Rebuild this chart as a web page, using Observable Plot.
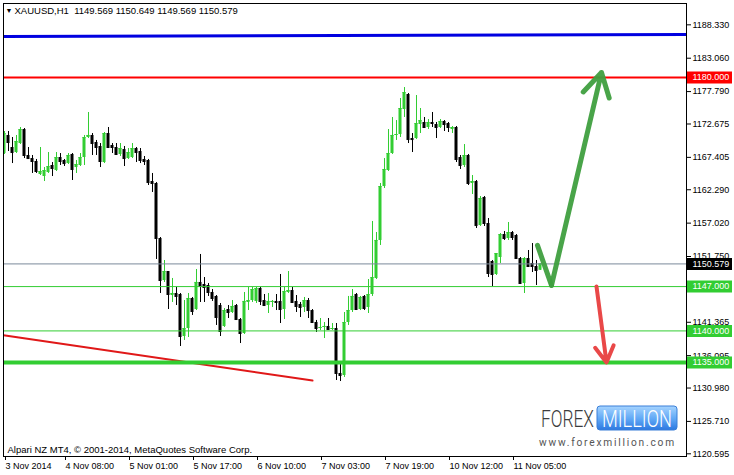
<!DOCTYPE html>
<html><head><meta charset="utf-8">
<script src="https://cdn.jsdelivr.net/npm/d3@7"></script>
<script src="https://cdn.jsdelivr.net/npm/@observablehq/plot@0.6"></script>
<style>html,body{margin:0;padding:0;background:#fff;}#chart{width:734px;height:475px;overflow:hidden}</style>
</head><body><div id="chart"></div>
<script>
// ---- data (XAUUSD H1) ----
const openP = [
1168.01,1170.86,1168.96,1168.17,1169.59,1171.80,1167.70,1167.22,1166.75,1164.70,
1164.38,1165.01,1166.12,1165.33,1167.38,1166.91,1166.43,1167.86,1165.80,1166.12,
1167.38,1170.54,1170.86,1169.75,1169.12,1166.59,1171.17,1169.28,1168.96,1167.86,
1168.64,1167.22,1167.38,1168.80,1168.33,1167.07,1166.91,1163.59,1163.28,1154.59,
1147.96,1149.38,1145.59,1145.91,1145.75,1139.12,1140.38,1145.12,1143.38,1147.65,
1147.33,1147.17,1146.07,1145.44,1144.01,1140.70,1143.38,1142.91,1144.01,1141.80,
1139.59,1144.49,1144.80,1144.65,1146.70,1144.80,1144.01,1144.49,1144.65,1144.65,
1143.38,1146.07,1146.38,1144.65,1144.17,1143.70,1144.80,1143.22,1141.33,1140.38,
1140.54,1140.70,1140.22,1140.38,1133.28,1132.96,1141.33,1143.22,1145.75,1143.38,
1145.44,1143.70,1145.75,1148.28,1154.28,1162.80,1165.33,1168.01,1170.86,1171.01,
1174.96,1177.33,1170.38,1170.38,1172.59,1172.91,1172.12,1172.91,1172.59,1172.12,
1173.07,1172.75,1171.80,1172.12,1167.38,1166.12,1167.70,1163.28,1163.59,1156.64,
1161.07,1156.96,1150.96,1148.91,1151.59,1155.22,1154.59,1155.54,1155.07,1151.43,
1147.49,1151.43,1150.65,1150.17,1149.569];
const highP = [
1171.49,1171.49,1170.54,1170.86,1172.12,1171.96,1168.96,1167.70,1167.07,1168.96,
1165.80,1168.17,1166.59,1168.17,1168.01,1167.07,1168.01,1168.01,1166.91,1168.01,
1170.86,1174.49,1171.17,1170.07,1169.59,1171.33,1172.12,1169.59,1169.59,1169.59,
1169.12,1168.80,1169.59,1168.96,1168.80,1167.54,1167.07,1164.86,1163.43,1154.75,
1151.12,1149.38,1148.28,1146.86,1145.91,1144.80,1145.91,1145.28,1149.70,1152.07,
1148.43,1147.49,1146.54,1145.59,1144.33,1143.54,1144.01,1144.80,1144.17,1141.96,
1146.07,1146.86,1146.86,1146.86,1146.86,1145.75,1145.91,1144.80,1145.75,1148.91,
1146.86,1149.38,1146.86,1145.59,1144.49,1145.28,1145.12,1143.38,1141.65,1141.96,
1141.33,1141.96,1141.17,1141.17,1135.01,1142.91,1145.44,1146.54,1145.91,1145.44,
1145.59,1148.12,1157.28,1155.54,1163.28,1167.22,1171.80,1173.70,1173.22,1176.70,
1178.43,1177.49,1171.17,1177.17,1175.12,1173.70,1173.38,1174.49,1172.91,1173.38,
1173.22,1172.91,1172.28,1172.28,1167.70,1169.43,1167.86,1164.54,1163.75,1161.22,
1161.22,1157.75,1151.12,1152.22,1155.38,1155.70,1157.12,1155.70,1155.22,1151.59,
1151.59,1152.70,1153.80,1151.12,1150.649];
const lowP = [
1167.86,1168.33,1166.43,1168.01,1169.43,1167.22,1167.07,1164.86,1164.86,1164.54,
1163.59,1164.86,1164.38,1165.17,1166.12,1165.96,1166.28,1163.75,1164.86,1165.96,
1166.12,1170.38,1167.70,1167.70,1165.80,1166.43,1168.80,1168.01,1167.70,1167.54,
1165.96,1167.07,1167.22,1166.59,1166.43,1166.12,1162.96,1161.86,1151.28,1145.91,
1147.65,1143.38,1144.49,1144.01,1137.54,1138.49,1138.96,1142.44,1143.22,1144.49,
1144.49,1145.44,1144.65,1140.86,1139.12,1140.54,1141.96,1142.75,1141.65,1138.01,
1139.44,1143.22,1144.49,1144.33,1144.01,1143.86,1142.75,1143.70,1143.22,1141.17,
1141.80,1145.91,1144.33,1142.91,1142.12,1142.91,1141.96,1141.17,1139.75,1140.07,
1138.80,1140.07,1140.07,1132.17,1132.01,1132.65,1140.86,1142.91,1143.22,1143.22,
1143.22,1142.75,1145.44,1148.12,1153.49,1162.49,1165.17,1167.86,1170.07,1170.54,
1173.70,1169.59,1168.17,1170.22,1171.17,1171.96,1171.80,1172.12,1170.38,1171.96,
1171.49,1171.33,1171.17,1166.59,1165.49,1165.80,1162.96,1161.54,1156.17,1156.49,
1156.49,1148.43,1147.01,1148.75,1150.65,1154.28,1154.28,1154.28,1151.28,1147.33,
1145.91,1150.01,1149.22,1147.17,1149.569];
const closeP = [
1171.17,1169.75,1168.17,1169.91,1171.80,1167.70,1167.22,1166.75,1165.17,1165.17,
1165.33,1165.96,1165.64,1167.38,1166.75,1166.43,1167.70,1165.49,1166.28,1167.38,
1170.54,1170.86,1169.59,1168.96,1166.75,1171.17,1168.96,1168.96,1167.86,1168.80,
1167.22,1168.17,1168.80,1168.17,1166.91,1166.75,1163.43,1163.28,1154.59,1147.96,
1149.38,1145.75,1145.91,1145.44,1139.12,1140.38,1145.12,1143.07,1147.65,1147.01,
1146.86,1146.07,1145.12,1142.12,1139.91,1143.22,1142.91,1143.86,1141.80,1139.59,
1144.65,1144.80,1146.54,1146.70,1144.65,1144.01,1144.65,1144.65,1144.49,1143.38,
1146.22,1146.38,1144.49,1143.86,1143.70,1144.80,1143.22,1141.33,1140.38,1140.54,
1140.70,1140.22,1140.38,1133.28,1132.96,1141.33,1143.22,1145.44,1143.38,1145.28,
1143.54,1145.75,1148.43,1154.28,1162.80,1165.49,1168.01,1170.86,1171.01,1175.12,
1177.64,1170.22,1170.22,1172.75,1173.22,1172.12,1172.91,1172.75,1172.12,1173.07,
1172.59,1172.12,1172.12,1167.07,1166.12,1167.70,1163.28,1163.59,1156.64,1160.91,
1156.96,1149.07,1148.91,1152.22,1155.22,1154.59,1155.54,1154.75,1151.43,1147.49,
1151.43,1150.17,1150.17,1149.54,1150.579];

const xTickBars = [1, 16, 32, 48, 64, 80, 96, 112, 128];
const xTickLabels = ["3 Nov 2014","4 Nov 08:00","5 Nov 01:00","5 Nov 17:00","6 Nov 10:00","7 Nov 03:00","7 Nov 19:00","10 Nov 12:00","11 Nov 05:00"];
const yTicks = [1188.330,1183.060,1177.790,1172.675,1167.405,1162.290,1157.020,1151.750,1146.635,1141.365,1136.095,1130.980,1125.710,1120.595];
const levelPrices = [1180.000, 1147.000, 1140.000, 1135.000];
const blueLineBars = [0.75, 171.5], blueLinePrices = [1186.49, 1186.80];
const redTrendBars = [0.75, 78], redTrendPrices = [1139.30, 1132.17];
const greenCheckBars = [134.25, 137.75, 150.25], greenCheckPrices = [1153.5, 1147.2, 1180.8];
const redArrowBars = [149, 151.5], redArrowPrices = [1147.0, 1135.0];
const symbol = "XAUUSD,H1";
const copyright = "Alpari NZ MT4, \u00A9 2001-2014, MetaQuotes Software Corp.";

// ---- build ----
const GREEN = "#32cd32";
const candles = openP.map((o, k) => ({i: k + 1, o, h: highP[k], l: lowP[k], c: closeP[k]}));
const up = candles.filter(d => d.c >= d.o), dn = candles.filter(d => d.c < d.o);
const last = candles[candles.length - 1];
const f3 = d => d.toFixed(3);
const header = `${symbol}  ${f3(last.o)} ${f3(last.h)} ${f3(last.l)} ${f3(last.c)}`;
const levelColors = ["#ff0000", GREEN, GREEN, GREEN];
const levelWidths = [2, 1, 1, 4];
const levels = levelPrices.map((p, k) => ({p, color: levelColors[k], w: levelWidths[k]}));
const boxes = [...levels, {p: last.c, color: "#000"}];
const pts = (xs, ys) => xs.map((x, k) => ({x, y: ys[k]}));
const blueLine = pts(blueLineBars, blueLinePrices);
const redTrend = pts(redTrendBars, redTrendPrices);
const check = pts(greenCheckBars, greenCheckPrices);
const greenArrow = [{x1: check[1].x, y1: check[1].y, x2: check[2].x, y2: check[2].y}];
const redArrow = [{x1: redArrowBars[0], y1: redArrowPrices[0], x2: redArrowBars[1], y2: redArrowPrices[1]}];

function logoMark(index, scales, values, dims) {
  const R = dims.width - dims.marginRight, B = dims.height - dims.marginBottom;
  const g = d3.create("svg:g").attr("font-family", "Roboto, 'Liberation Sans', sans-serif")
    .attr("text-anchor", "start");
  const grad = g.append("defs").append("linearGradient").attr("id", "fmGrad")
    .attr("x1", 0).attr("y1", 0).attr("x2", 0).attr("y2", 1);
  grad.append("stop").attr("offset", "0%").attr("stop-color", "#a6d4ff");
  grad.append("stop").attr("offset", "55%").attr("stop-color", "#5ea6f5");
  grad.append("stop").attr("offset", "100%").attr("stop-color", "#2c78e0");
  g.append("rect").attr("x", R - 89).attr("y", B - 50).attr("width", 80).attr("height", 24)
    .attr("rx", 3).attr("fill", "url(#fmGrad)").attr("stroke", "#3b7fd8");
  g.append("text").attr("class", "fit").attr("data-x", R - 145).attr("data-w", 53)
    .attr("y", B - 29).attr("font-size", 24).attr("font-weight", 300)
    .attr("fill", "#3c3c3c").text("FOREX");
  g.append("text").attr("class", "fit").attr("data-x", R - 84).attr("data-w", 70)
    .attr("y", B - 29).attr("font-size", 24).attr("font-weight", 300)
    .attr("fill", "#fff").text("MILLION");
  g.append("text").attr("class", "fit").attr("data-x", R - 147).attr("data-w", 137)
    .attr("y", B - 10).attr("font-size", 11.5).attr("letter-spacing", 2)
    .attr("fill", "#555").text("www.forexmillion.com");
  return g.node();
}

const chart = Plot.plot({
  width: 734, height: 475,
  marginTop: 3, marginLeft: 3, marginRight: 48, marginBottom: 19,
  x: {domain: [0.75, 171.5], axis: null},
  y: {domain: [1120.17, 1191.70], axis: null},
  style: {fontFamily: "'Liberation Sans', Arial, sans-serif", fontSize: "9px", background: "#fff", color: "#000", overflow: "visible"},
  marks: [
    Plot.ruleX(up, {x: "i", y1: "l", y2: "h", stroke: GREEN, clip: true}),
    Plot.ruleX(dn, {x: "i", y1: "l", y2: "h", stroke: "#000", clip: true}),
    Plot.rect(up, {x1: d => d.i - 0.375, x2: d => d.i + 0.375, y1: "o", y2: "c", fill: GREEN, clip: true}),
    Plot.rect(dn, {x1: d => d.i - 0.375, x2: d => d.i + 0.375, y1: "o", y2: "c", fill: "#000", clip: true}),
    Plot.ruleY(up, {x1: d => d.i - 0.375, x2: d => d.i + 0.375, y: "c", stroke: GREEN, clip: true}),
    Plot.ruleY(dn, {x1: d => d.i - 0.375, x2: d => d.i + 0.375, y: "c", stroke: "#000", clip: true}),
    Plot.line(blueLine, {x: "x", y: "y", stroke: "#0000e0", strokeWidth: 3, clip: true}),
    Plot.line(redTrend, {x: "x", y: "y", stroke: "#e01818", strokeWidth: 2, clip: true}),
    Plot.ruleY([last.c], {stroke: "#7a8a9a", strokeWidth: 1}),
    Plot.ruleY(levels, {y: "p", stroke: d => d.color, strokeWidth: d => d.w}),
    Plot.line(check.slice(0, 2), {x: "x", y: "y", stroke: "#3f9f3f", strokeWidth: 5, strokeLinecap: "round", strokeOpacity: 0.95}),
    Plot.arrow(greenArrow, {x1: "x1", y1: "y1", x2: "x2", y2: "y2", stroke: "#3f9f3f", strokeWidth: 5, headLength: 8, strokeOpacity: 0.95}),
    Plot.arrow(redArrow, {x1: "x1", y1: "y1", x2: "x2", y2: "y2", stroke: "#e94848", strokeWidth: 4, headLength: 7}),
    Plot.axisY({anchor: "right", ticks: yTicks, tickFormat: f3, tickSize: 4, tickPadding: 2, label: null}),
    Plot.axisX({anchor: "bottom", ticks: xTickBars, tickFormat: d => xTickLabels[xTickBars.indexOf(d)], tickSize: 4, tickPadding: 2, textAnchor: "start", dx: 1, label: null}),
    Plot.ruleY(boxes, {y: "p", x1: d => 171.75, x2: d => 183, stroke: d => d.color, strokeWidth: 12, clip: false}),
    Plot.text(boxes, {y: "p", x: d => 173, text: d => f3(d.p), textAnchor: "start", fill: "#fff", clip: false}),
    Plot.text(["\u25BC"], {frameAnchor: "top-left", dx: 2, dy: 5, lineAnchor: "top", textAnchor: "start", fontSize: 7}),
    Plot.text([header], {frameAnchor: "top-left", dx: 11, dy: 4, lineAnchor: "top", textAnchor: "start", fontSize: 9.5}),
    Plot.text([copyright], {frameAnchor: "bottom-left", dx: 4, dy: -4, lineAnchor: "bottom", textAnchor: "start", fontSize: 9.5}),
    logoMark,
    Plot.frame({stroke: "#000"})
  ]
});
document.getElementById("chart").append(chart);
// fit logo texts to their target widths
d3.select(chart).selectAll("text.fit").each(function () {
  const t = d3.select(this), x = +t.attr("data-x"), w = +t.attr("data-w");
  const n = this.getComputedTextLength() || w;
  t.attr("x", 0).attr("transform", `translate(${x},0) scale(${w / n},1)`);
});
</script>
</body></html>
